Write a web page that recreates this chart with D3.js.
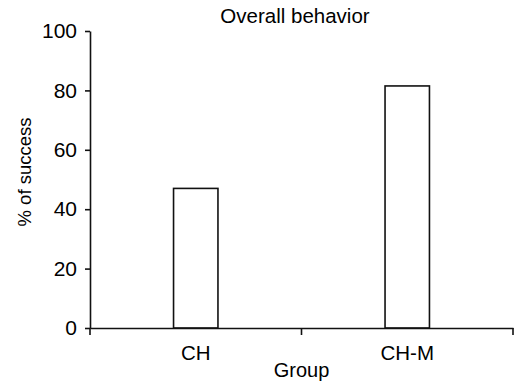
<!DOCTYPE html>
<html lang="en">
<head>
  <meta charset="UTF-8">
  <title>Overall behavior</title>
  <script src="https://d3js.org/d3.v7.min.js"></script>
  <style>
    body { margin: 0; padding: 0; background: #fff; }
    svg { display: block; }
    text { font-family: "Liberation Sans", Arial, sans-serif; fill: #000; }
  </style>
</head>
<body>
  <div id="chart"></div>
  <script>
    // Data
    const groups = ["CH", "CH-M"];
    const success = [47, 81.5];
    const yTicks = [0, 20, 40, 60, 80, 100];

    const width = 518;
    const height = 388;
    const plotLeft = 90, plotRight = 513, plotTop = 31, plotBottom = 328;

    const svg = d3.select("#chart")
      .append("svg")
      .attr("width", width)
      .attr("height", height);

    // Scales
    const x = d3.scaleBand()
      .domain(groups)
      .range([plotLeft, plotRight])
      .padding(0);

    const y = d3.scaleLinear()
      .domain([0, 100])
      .range([plotBottom, plotTop]);

    const barW = x.bandwidth() * 0.21;

    // Bars
    svg.selectAll(".bar")
      .data(groups)
      .enter()
      .append("rect")
      .attr("class", "bar")
      .attr("x", d => x(d) + x.bandwidth() / 2 - barW / 2)
      .attr("y", (d, i) => y(success[i]))
      .attr("width", barW)
      .attr("height", (d, i) => y(0) - y(success[i]))
      .attr("fill", "#fff")
      .attr("stroke", "#111")
      .attr("stroke-width", 1.6);

    // Y axis
    const yAxis = d3.axisLeft(y)
      .tickValues(yTicks)
      .tickSize(5)
      .tickPadding(8)
      .tickSizeOuter(0);

    const gy = svg.append("g")
      .attr("transform", `translate(${plotLeft},0)`)
      .call(yAxis);
    gy.selectAll("text").style("font-size", "21px");
    gy.selectAll("line, path").attr("stroke", "#111").attr("stroke-width", 1.6);

    // X axis (labels at band centres, ticks at band edges)
    const xAxis = d3.axisBottom(x)
      .tickSize(0)
      .tickPadding(17)
      .tickSizeOuter(0);

    const gx = svg.append("g")
      .attr("transform", `translate(0,${plotBottom})`)
      .call(xAxis);
    gx.selectAll("text").style("font-size", "20.5px");
    gx.selectAll("path").attr("stroke", "#111").attr("stroke-width", 1.6);

    const edges = groups.map(g => x(g)).concat([x.range()[1]]);
    gx.selectAll(".edge")
      .data(edges)
      .enter()
      .append("line")
      .attr("x1", d => d)
      .attr("x2", d => d)
      .attr("y1", 0)
      .attr("y2", 7)
      .attr("stroke", "#111")
      .attr("stroke-width", 1.6);

    // Title and axis labels
    svg.append("text")
      .attr("x", 295)
      .attr("y", 23)
      .attr("text-anchor", "middle")
      .style("font-size", "20.5px")
      .text("Overall behavior");

    svg.append("text")
      .attr("x", (plotLeft + plotRight) / 2)
      .attr("y", 377)
      .attr("text-anchor", "middle")
      .style("font-size", "20px")
      .text("Group");

    svg.append("text")
      .attr("transform", `translate(31,172) rotate(-90)`)
      .attr("text-anchor", "middle")
      .style("font-size", "18.5px")
      .text("% of success");
  </script>
</body>
</html>
